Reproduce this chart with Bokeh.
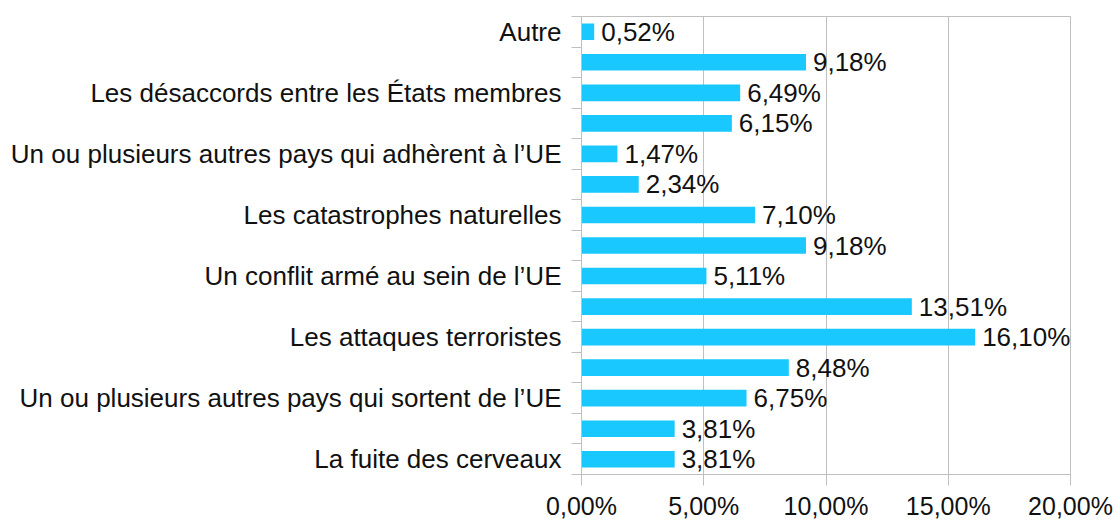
from bokeh.plotting import figure
from bokeh.models import ColumnDataSource, FixedTicker, Range1d
from bokeh.core.properties import value
from bokeh.embed import file_html
from bokeh.resources import INLINE

# bottom to top; empty strings are categories whose label is not shown
categories = [
    "La fuite des cerveaux",
    "",
    "Un ou plusieurs autres pays qui sortent de l’UE",
    "",
    "Les attaques terroristes",
    "",
    "Un conflit armé au sein de l’UE",
    "",
    "Les catastrophes naturelles",
    "",
    "Un ou plusieurs autres pays qui adhèrent à l’UE",
    "",
    "Les désaccords entre les États membres",
    "",
    "Autre",
]
values = [3.81, 3.81, 6.75, 8.48, 16.10, 13.51, 5.11, 9.18, 7.10, 2.34, 1.47, 6.15, 6.49, 9.18, 0.52]
x_ticks = [0, 5, 10, 15, 20]
x_tick_labels = ["0,00%", "5,00%", "10,00%", "15,00%", "20,00%"]

FONT = "Liberation Sans"
GRID = "#BFBFBF"
BAR = "#18C8FF"

pos = [i + 0.5 for i in range(len(categories))]
labels = [f"{v:.2f}".replace(".", ",") + "%" for v in values]
src = ColumnDataSource(dict(y=pos, v=values, lab=labels))

p = figure(frame_width=489, frame_height=458, output_backend="svg", toolbar_location=None,
           x_range=Range1d(0, 20), y_range=Range1d(0, len(categories)),
           min_border_left=581, min_border_right=43, min_border_top=16, min_border_bottom=50)

p.hbar(y="y", right="v", left=0, height=0.545, source=src, fill_color=BAR, line_color=None)
p.text(x="v", y="y", text="lab", source=src, x_offset=7, text_align="left", text_baseline="middle",
       text_font=value(FONT), text_font_size="26px", text_color="#111111")

p.outline_line_color = GRID
p.ygrid.grid_line_color = None
p.xgrid.grid_line_color = GRID
p.xgrid.ticker = FixedTicker(ticks=x_ticks)

xa = p.xaxis[0]
xa.ticker = FixedTicker(ticks=x_ticks)
xa.major_label_overrides = {t: l for t, l in zip(x_ticks, x_tick_labels)}
xa.axis_line_color = GRID
xa.major_tick_line_color = GRID
xa.major_tick_in = 0
xa.major_tick_out = 11
xa.minor_tick_line_color = None
xa.major_label_standoff = 6
xa.major_label_text_font = FONT
xa.major_label_text_font_size = "25px"
xa.major_label_text_color = "#111111"

ya = p.yaxis[0]
ya.ticker = FixedTicker(ticks=pos, minor_ticks=list(range(len(categories) + 1)))
ya.major_label_overrides = {t: c for t, c in zip(pos, categories)}
ya.axis_line_color = GRID
ya.major_tick_line_color = None
ya.major_tick_in = 0
ya.major_tick_out = 10
ya.minor_tick_line_color = GRID
ya.minor_tick_in = 0
ya.minor_tick_out = 10
ya.major_label_standoff = 10
ya.major_label_text_font = FONT
ya.major_label_text_font_size = "26px"
ya.major_label_text_color = "#111111"

open("out.html", "w").write(file_html(p, INLINE))
